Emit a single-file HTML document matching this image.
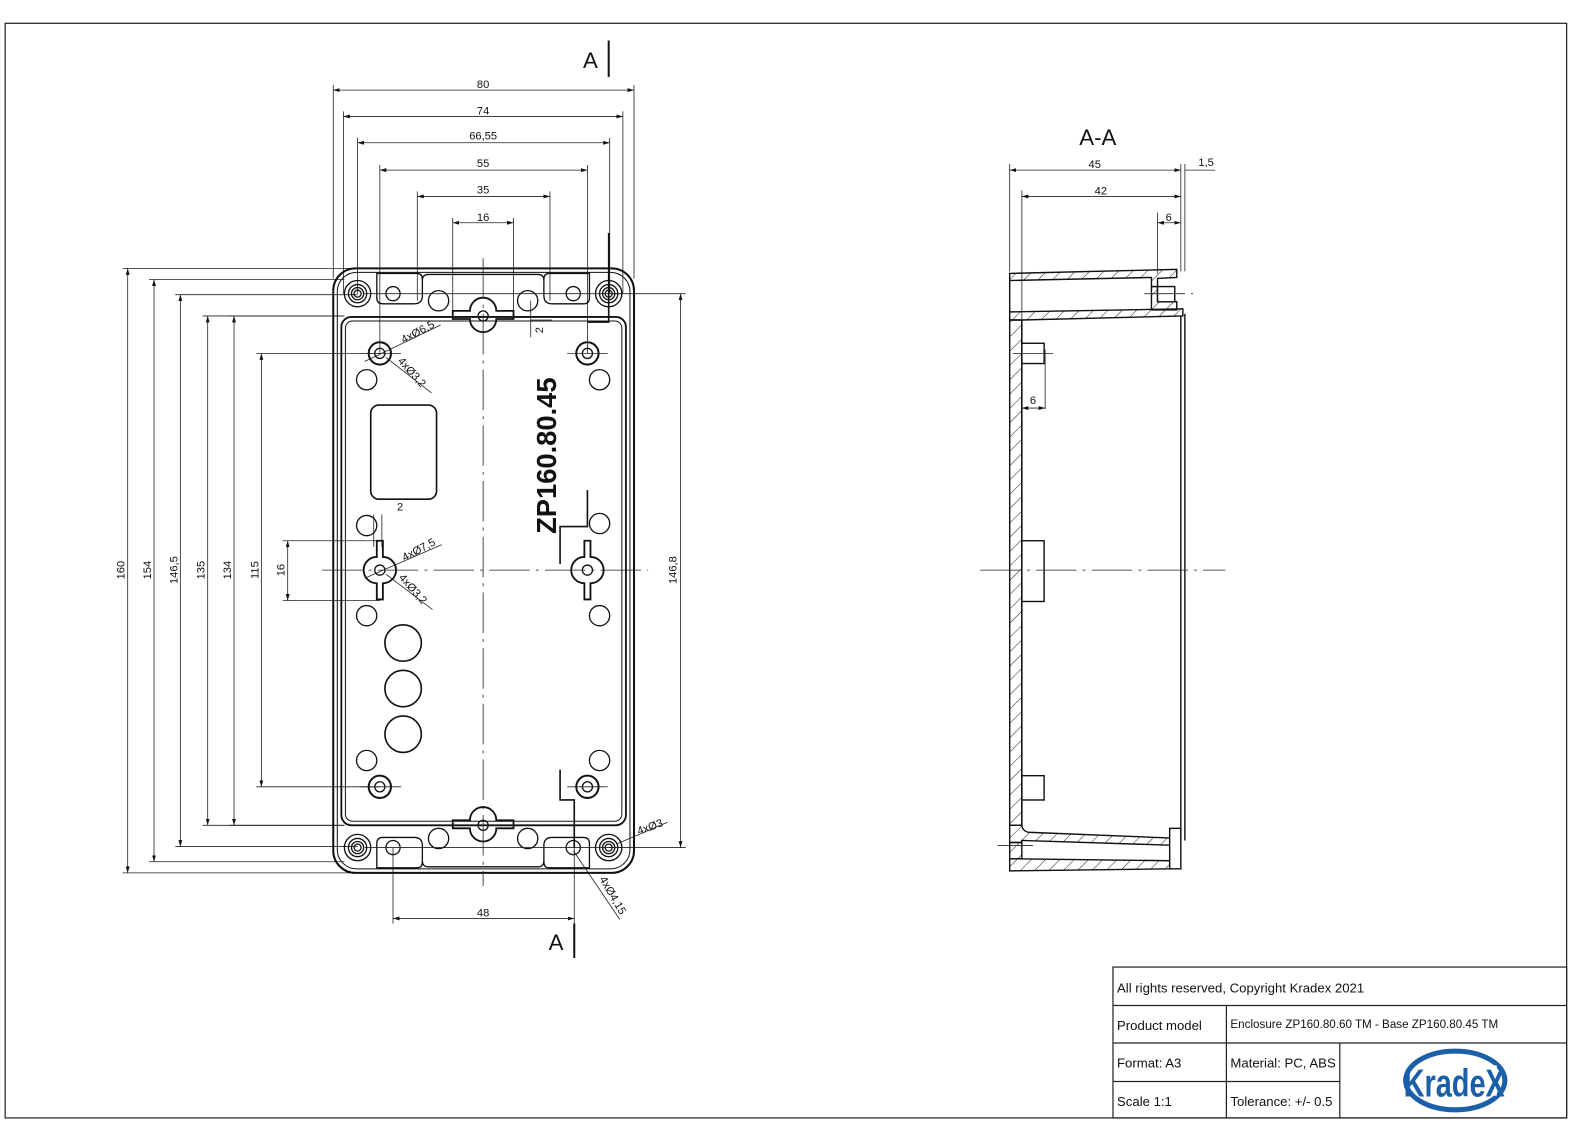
<!DOCTYPE html>
<html><head><meta charset="utf-8"><style>
html,body{margin:0;padding:0;background:#fff;}
svg{display:block;}
text{font-family:"Liberation Sans",sans-serif;fill:#111;}
</style></head><body>
<svg width="1588" height="1123" viewBox="0 0 1568 1109" xmlns="http://www.w3.org/2000/svg">
<defs>
<marker id="a" viewBox="0 0 10 6" refX="10" refY="3" markerWidth="8" markerHeight="5" orient="auto-start-reverse"><path d="M0,0L10,3L0,6z" fill="#111"/></marker>
<pattern id="h" width="10" height="10" patternUnits="userSpaceOnUse" patternTransform="rotate(45)"><line x1="0" y1="0" x2="0" y2="10" stroke="#222" stroke-width="1"/></pattern>
</defs>
<rect width="1568" height="1109" fill="#fff"/>
<rect x="5" y="23" width="1542" height="1081" fill="none" stroke="#222" stroke-width="1.2"/>

<g stroke="#222" stroke-width="0.8" fill="none">
<line x1="329" y1="84" x2="329" y2="275"/><line x1="626" y1="84" x2="626" y2="275"/>
<line x1="339" y1="110" x2="339" y2="290"/><line x1="615" y1="110" x2="615" y2="290"/>
<line x1="353" y1="136" x2="353" y2="290"/><line x1="602" y1="136" x2="602" y2="290"/>
<line x1="375" y1="163" x2="375" y2="349"/><line x1="580" y1="163" x2="580" y2="349"/>
<line x1="412" y1="189" x2="412" y2="297"/><line x1="543" y1="189" x2="543" y2="297"/>
<line x1="447" y1="215" x2="447" y2="312"/><line x1="507" y1="215" x2="507" y2="312"/>
<line x1="121" y1="265" x2="350" y2="265"/><line x1="121" y1="862" x2="350" y2="862"/>
<line x1="147" y1="276" x2="340" y2="276"/><line x1="147" y1="851" x2="340" y2="851"/>
<line x1="173" y1="291" x2="353" y2="291"/><line x1="173" y1="836" x2="353" y2="836"/>
<line x1="200" y1="312" x2="340" y2="312"/><line x1="200" y1="815" x2="340" y2="815"/>
<line x1="226" y1="312" x2="340" y2="312"/><line x1="226" y1="815" x2="340" y2="815"/>
<line x1="253" y1="349" x2="375" y2="349"/><line x1="253" y1="777" x2="375" y2="777"/>
<line x1="279" y1="534" x2="375" y2="534"/><line x1="279" y1="593" x2="375" y2="593"/>
<line x1="601" y1="290" x2="677" y2="290"/><line x1="601" y1="837" x2="677" y2="837"/>
<line x1="388" y1="837" x2="388" y2="912"/><line x1="567" y1="837" x2="567" y2="912"/>
</g>
<g stroke="#222" stroke-width="0.8" marker-start="url(#a)" marker-end="url(#a)">
<line x1="329" y1="89" x2="626" y2="89"/>
<line x1="339" y1="115" x2="615" y2="115"/>
<line x1="353" y1="141" x2="602" y2="141"/>
<line x1="375" y1="168" x2="580" y2="168"/>
<line x1="412" y1="194" x2="543" y2="194"/>
<line x1="447" y1="220" x2="507" y2="220"/>
<line x1="126" y1="265" x2="126" y2="862"/>
<line x1="152" y1="276" x2="152" y2="851"/>
<line x1="178" y1="291" x2="178" y2="836"/>
<line x1="205" y1="312" x2="205" y2="815"/>
<line x1="231" y1="312" x2="231" y2="815"/>
<line x1="258" y1="349" x2="258" y2="777"/>
<line x1="284" y1="534" x2="284" y2="593"/>
<line x1="672" y1="290" x2="672" y2="837"/>
<line x1="388" y1="907" x2="567" y2="907"/>
</g>
<g font-size="11" text-anchor="middle">
<text x="477" y="87">80</text><text x="477" y="113">74</text><text x="477" y="138">66,55</text>
<text x="477" y="165">55</text><text x="477" y="191">35</text><text x="477" y="218">16</text>
<text x="477" y="905">48</text>
<text transform="translate(123,563) rotate(-90)">160</text>
<text transform="translate(149,563) rotate(-90)">154</text>
<text transform="translate(175,563) rotate(-90)">146,5</text>
<text transform="translate(202,563) rotate(-90)">135</text>
<text transform="translate(228,563) rotate(-90)">134</text>
<text transform="translate(255,563) rotate(-90)">115</text>
<text transform="translate(281,563) rotate(-90)">16</text>
<text transform="translate(668,563) rotate(-90)">146,8</text>
<text transform="translate(536,326) rotate(-90)">2</text>
<text x="395" y="504">2</text>
<text transform="translate(414,331) rotate(-28)">4xØ6,5</text>
<text transform="translate(404,370) rotate(48)">4xØ3,2</text>
<text transform="translate(415,546) rotate(-28)">4xØ7,5</text>
<text transform="translate(405,584) rotate(48)">4xØ3,2</text>
<text transform="translate(643,820) rotate(-20)">4xØ3</text>
<text transform="translate(602,886) rotate(60)">4xØ4,15</text>
</g>
<text x="583" y="67" font-size="22" text-anchor="middle">A</text>
<line x1="601" y1="40" x2="601" y2="76" stroke="#111" stroke-width="2"/>
<text x="549" y="938" font-size="22" text-anchor="middle">A</text>
<line x1="567" y1="912" x2="567" y2="946" stroke="#111" stroke-width="2"/>
<polyline points="601,230 601,290" stroke="#111" stroke-width="1.6" fill="none"/>
<polyline points="601,290 601,318 580,318" stroke="#111" stroke-width="1.6" fill="none"/>
<polyline points="580,484 580,520 553,520 553,557" stroke="#111" stroke-width="1.6" fill="none"/>
<polyline points="553,760 553,790 567,790 567,837" stroke="#111" stroke-width="1.6" fill="none"/>

<g stroke="#222" stroke-width="0.8" fill="none">
<line x1="360" y1="357" x2="435" y2="321"/><line x1="381" y1="353" x2="426" y2="388"/>
<line x1="360" y1="571" x2="436" y2="538"/><line x1="381" y1="567" x2="427" y2="602"/>
<line x1="610" y1="833" x2="659" y2="812"/><line x1="566" y1="840" x2="612" y2="908"/>
<line x1="524" y1="333" x2="524" y2="297"/><line x1="524" y1="316" x2="545" y2="316"/>
<line x1="369" y1="508" x2="369" y2="540"/><line x1="377" y1="508" x2="377" y2="540"/>
</g>

<g stroke="#111" fill="none">
<rect x="329" y="265" width="297" height="597" rx="22" stroke-width="2"/>
<rect x="333" y="269" width="289" height="589" rx="19" stroke-width="1"/>
<rect x="337" y="313" width="281" height="502" rx="10" stroke-width="1.8"/>
<rect x="341" y="317" width="273" height="494" rx="7" stroke-width="1"/>
<path d="M372,270 h40 q5,0 5,6 v16 q0,8 -8,8 h-31 q-6,0 -6,-6 z" stroke-width="1.3"/>
<path d="M582,270 h-40 q-5,0 -5,6 v16 q0,8 8,8 h31 q6,0 6,-6 z" stroke-width="1.3"/>
<path d="M372,857 h40 q5,0 5,-6 v-16 q0,-8 -8,-8 h-31 q-6,0 -6,6 z" stroke-width="1.3"/>
<path d="M582,857 h-40 q-5,0 -5,-6 v-16 q0,-8 8,-8 h31 q6,0 6,6 z" stroke-width="1.3"/>
<path d="M417,277 q0,-6 6,-6 h108 q6,0 6,6" stroke-width="1.3"/>
<path d="M417,850 q0,6 6,6 h108 q6,0 6,-6" stroke-width="1.3"/>
<rect x="366" y="400" width="65" height="93" rx="8" stroke-width="1.6"/>
</g>
<g stroke="#111" fill="none" stroke-width="1.3">
<circle cx="353" cy="290" r="13"/><circle cx="353" cy="290" r="9"/><circle cx="353" cy="290" r="6"/><circle cx="353" cy="290" r="3.5"/>
<circle cx="601" cy="290" r="13"/><circle cx="601" cy="290" r="9"/><circle cx="601" cy="290" r="6"/><circle cx="601" cy="290" r="3.5"/>
<circle cx="353" cy="837" r="13"/><circle cx="353" cy="837" r="9"/><circle cx="353" cy="837" r="6"/><circle cx="353" cy="837" r="3.5"/>
<circle cx="601" cy="837" r="13"/><circle cx="601" cy="837" r="9"/><circle cx="601" cy="837" r="6"/><circle cx="601" cy="837" r="3.5"/>
<circle cx="388" cy="290" r="7"/><circle cx="566" cy="290" r="7"/><circle cx="388" cy="837" r="7"/><circle cx="566" cy="837" r="7"/>
<circle cx="433" cy="297" r="10"/><circle cx="521" cy="297" r="10"/><circle cx="433" cy="828" r="10"/><circle cx="521" cy="828" r="10"/>
<circle cx="375" cy="349" r="11" stroke-width="2"/><circle cx="375" cy="349" r="5"/>
<circle cx="580" cy="349" r="11" stroke-width="2"/><circle cx="580" cy="349" r="5"/>
<circle cx="375" cy="777" r="11" stroke-width="2"/><circle cx="375" cy="777" r="5"/>
<circle cx="580" cy="777" r="11" stroke-width="2"/><circle cx="580" cy="777" r="5"/>
<circle cx="362" cy="375" r="10"/><circle cx="592" cy="375" r="10"/>
<circle cx="362" cy="519" r="10"/><circle cx="592" cy="517" r="10"/>
<circle cx="362" cy="608" r="10"/><circle cx="592" cy="608" r="10"/>
<circle cx="362" cy="751" r="10"/><circle cx="592" cy="751" r="10"/>
<circle cx="398" cy="635" r="18" stroke-width="1.6"/><circle cx="398" cy="680" r="18" stroke-width="1.6"/><circle cx="398" cy="725" r="18" stroke-width="1.6"/>
<path d="M464,307 h-17 v8 h17 a13,13 0 0 0 26,0 h17 v-8 h-17 a13,13 0 0 0 -26,0z" stroke-width="1.8"/>
<circle cx="477" cy="312" r="5"/>
<path d="M464,810 h-17 v8 h17 a13,13 0 0 0 26,0 h17 v-8 h-17 a13,13 0 0 0 -26,0z" stroke-width="1.8"/>
<circle cx="477" cy="815" r="5"/>
<path d="M372,550 v-16 h6 v16 a13,13 0 0 1 0,26 v16 h-6 v-16 a13,13 0 0 1 0,-26z" stroke-width="1.8"/>
<circle cx="375" cy="563" r="5"/>
<path d="M577,550 v-16 h6 v16 a13,13 0 0 1 0,26 v16 h-6 v-16 a13,13 0 0 1 0,-26z" stroke-width="1.8"/>
<circle cx="580" cy="563" r="5"/>
</g>
<g stroke="#222" stroke-width="0.8" stroke-dasharray="40,6,3,6" fill="none">
<line x1="477" y1="255" x2="477" y2="875"/>
<line x1="318" y1="563" x2="640" y2="563"/>
</g>
<g stroke="#222" stroke-width="0.8" fill="none">
<line x1="360" y1="290" x2="615" y2="290"/><line x1="360" y1="837" x2="615" y2="837"/>
<line x1="356" y1="349" x2="396" y2="349"/><line x1="560" y1="349" x2="600" y2="349"/>
<line x1="356" y1="777" x2="396" y2="777"/><line x1="560" y1="777" x2="600" y2="777"/>
</g>
<text transform="translate(549,450) rotate(-90)" font-size="27" font-weight="bold" text-anchor="middle">ZP160.80.45</text>

<!-- Section A-A -->
<text x="1084" y="143" font-size="22" text-anchor="middle">A-A</text>
<g stroke="#222" stroke-width="0.8" fill="none">
<line x1="997" y1="162" x2="997" y2="268"/><line x1="1166" y1="162" x2="1166" y2="268"/>
<line x1="1170" y1="162" x2="1170" y2="268"/>
<line x1="1009" y1="188" x2="1009" y2="318"/>
<line x1="1143" y1="210" x2="1143" y2="270"/>
<line x1="1032" y1="345" x2="1032" y2="404"/>
</g>
<g stroke="#222" stroke-width="0.8" marker-start="url(#a)" marker-end="url(#a)">
<line x1="997" y1="168" x2="1166" y2="168"/>
<line x1="1009" y1="194" x2="1166" y2="194"/>
<line x1="1143" y1="220" x2="1166" y2="220"/>
<line x1="1009" y1="403" x2="1032" y2="403"/>
</g>
<line x1="1170" y1="168" x2="1200" y2="168" stroke="#222" stroke-width="0.8"/>
<g font-size="11" text-anchor="middle">
<text x="1081" y="166">45</text><text x="1087" y="192">42</text><text x="1154" y="218">6</text>
<text x="1191" y="164">1,5</text><text x="1020" y="399">6</text>
</g>
<g stroke="#111" stroke-width="1.4">
<!-- top lid wall -->
<path d="M997,270 L1162,266 L1162,274 L1143,275 L1143,283 L1137,283 L1137,274 L997,277z" fill="url(#h)"/>
<!-- upper right block -->
<path d="M1137,283 L1143,283 L1143,298 L1162,298 L1162,306 L1137,306z" fill="url(#h)"/>
<!-- base top wall -->
<path d="M997,308 L1168,305 L1168,312 L1009,316 L997,316z" fill="url(#h)"/>
<!-- left wall -->
<path d="M997,316 L1009,316 L1009,815 L997,815z" fill="url(#h)"/>
<!-- bottom inner floor -->
<path d="M997,815 L1009,815 Q1010,822 1018,822 L1166,828 L1166,835 L1009,830 L1009,832 L997,832z" fill="url(#h)"/>
<!-- bottom outer wall -->
<path d="M997,848 L1155,850 L1155,858 L997,860z" fill="url(#h)"/>
<path d="M997,832 L1009,832 L1009,848 L997,848z" fill="url(#h)"/>
</g>
<g stroke="#111" stroke-width="1.4" fill="#fff">
<rect x="1009" y="339" width="22" height="20"/>
<rect x="1009" y="534" width="22" height="60"/>
<rect x="1009" y="766" width="22" height="24"/>
<rect x="1143" y="283" width="17" height="15"/>
<rect x="1155" y="818" width="11" height="40"/>
</g>
<g stroke="#111" stroke-width="1.4" fill="none">
<line x1="1166" y1="312" x2="1166" y2="828"/>
<line x1="1170" y1="310" x2="1170" y2="830"/>
<line x1="1009" y1="316" x2="1009" y2="815"/>
<line x1="997" y1="277" x2="997" y2="308"/>
</g>
<g stroke="#222" stroke-width="0.8" stroke-dasharray="40,6,3,6">
<line x1="968" y1="563" x2="1210" y2="563"/>
<line x1="1130" y1="290" x2="1178" y2="290"/>
<line x1="1000" y1="349" x2="1043" y2="349"/>
<line x1="985" y1="835" x2="1020" y2="835"/>
</g>

<g stroke="#222" stroke-width="1.2" fill="none">
<rect x="1099" y="955" width="448" height="149"/>
<line x1="1099" y1="993" x2="1547" y2="993"/>
<line x1="1099" y1="1030" x2="1547" y2="1030"/>
<line x1="1099" y1="1068" x2="1323" y2="1068"/>
<line x1="1211" y1="993" x2="1211" y2="1104"/>
<line x1="1323" y1="1030" x2="1323" y2="1104"/>
</g>
<g font-size="13">
<text x="1103" y="980">All rights reserved, Copyright Kradex 2021</text>
<text x="1103" y="1017">Product model</text>
<text x="1215" y="1015" font-size="11.5">Enclosure ZP160.80.60 TM - Base ZP160.80.45 TM</text>
<text x="1103" y="1054">Format: A3</text>
<text x="1215" y="1054">Material: PC, ABS</text>
<text x="1103" y="1092">Scale 1:1</text>
<text x="1215" y="1092">Tolerance: +/- 0.5</text>
</g>
<ellipse cx="1437" cy="1067" rx="49" ry="29" fill="none" stroke="#1a5fa8" stroke-width="5"/>
<rect x="1400" y="1052" width="78" height="30" fill="#fff"/>
<text x="1436" y="1083" font-size="38" font-weight="bold" text-anchor="middle" style="fill:#1a5fa8" textLength="100" lengthAdjust="spacingAndGlyphs">KradeX</text>
</svg>
</body></html>
